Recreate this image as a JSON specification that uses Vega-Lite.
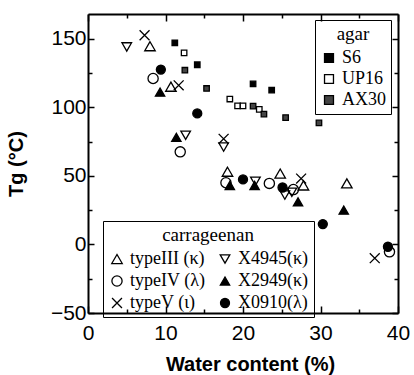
{
  "$schema": "https://vega.github.io/schema/vega-lite/v6.json",
  "width": 310,
  "height": 299,
  "autosize": {"type": "none"},
  "padding": {"left": 88, "top": 14, "right": 16, "bottom": 62},
  "background": "white",
  "config": {
    "view": {"stroke": null},
    "axis": {
      "domainColor": "black",
      "domainWidth": 2,
      "tickColor": "black",
      "tickWidth": 1.5,
      "grid": false,
      "labelFont": "Liberation Sans",
      "labelFontSize": 21,
      "labelColor": "black",
      "titleFont": "Liberation Sans",
      "titleFontSize": 20,
      "titleFontWeight": "bold",
      "titleColor": "black",
      "labelOverlap": false,
      "labelFlush": false
    }
  },
  "datasets": {
    "carr": [
      {"series": "typeIII (κ)", "water": 8.0, "tg": 144.5},
      {"series": "typeIII (κ)", "water": 10.7, "tg": 115},
      {"series": "typeIII (κ)", "water": 18.0, "tg": 53},
      {"series": "typeIII (κ)", "water": 24.8, "tg": 51.7},
      {"series": "typeIII (κ)", "water": 27.8, "tg": 43},
      {"series": "typeIII (κ)", "water": 33.4, "tg": 44.5},
      {"series": "typeIV (λ)", "water": 8.4, "tg": 121},
      {"series": "typeIV (λ)", "water": 11.9, "tg": 67.5},
      {"series": "typeIV (λ)", "water": 17.8, "tg": 45},
      {"series": "typeIV (λ)", "water": 23.4, "tg": 44.5},
      {"series": "typeIV (λ)", "water": 26.5, "tg": 40},
      {"series": "typeIV (λ)", "water": 38.9, "tg": -5.4},
      {"series": "typeV (ι)", "water": 7.3, "tg": 152.5},
      {"series": "typeV (ι)", "water": 11.7, "tg": 116},
      {"series": "typeV (ι)", "water": 17.5, "tg": 77},
      {"series": "typeV (ι)", "water": 27.5, "tg": 48},
      {"series": "typeV (ι)", "water": 37.0, "tg": -10},
      {"series": "X4945(κ)", "water": 5.0, "tg": 144},
      {"series": "X4945(κ)", "water": 12.6, "tg": 79.6},
      {"series": "X4945(κ)", "water": 17.5, "tg": 71},
      {"series": "X4945(κ)", "water": 21.6, "tg": 46},
      {"series": "X4945(κ)", "water": 25.4, "tg": 36},
      {"series": "X4945(κ)", "water": 26.3, "tg": 38},
      {"series": "X2949(κ)", "water": 9.3, "tg": 111},
      {"series": "X2949(κ)", "water": 11.4, "tg": 78},
      {"series": "X2949(κ)", "water": 18.3, "tg": 43},
      {"series": "X2949(κ)", "water": 21.5, "tg": 43},
      {"series": "X2949(κ)", "water": 27.1, "tg": 31},
      {"series": "X2949(κ)", "water": 33.0, "tg": 25},
      {"series": "X0910(λ)", "water": 9.4, "tg": 127.5},
      {"series": "X0910(λ)", "water": 14.1, "tg": 95.5},
      {"series": "X0910(λ)", "water": 20.0, "tg": 47.4},
      {"series": "X0910(λ)", "water": 25.1, "tg": 41.5},
      {"series": "X0910(λ)", "water": 30.3, "tg": 14.8},
      {"series": "X0910(λ)", "water": 38.7, "tg": -1.7}
    ],
    "agar": [
      {"series": "S6", "water": 11.2, "tg": 147},
      {"series": "S6", "water": 14.1, "tg": 131},
      {"series": "S6", "water": 21.3, "tg": 117},
      {"series": "S6", "water": 23.7, "tg": 112.5},
      {"series": "UP16", "water": 12.4, "tg": 139.6},
      {"series": "UP16", "water": 18.3, "tg": 106},
      {"series": "UP16", "water": 19.3, "tg": 101},
      {"series": "UP16", "water": 20.0, "tg": 101},
      {"series": "UP16", "water": 22.1, "tg": 98.4},
      {"series": "AX30", "water": 12.5, "tg": 127},
      {"series": "AX30", "water": 15.3, "tg": 113.7},
      {"series": "AX30", "water": 21.3, "tg": 100.8},
      {"series": "AX30", "water": 22.7, "tg": 95},
      {"series": "AX30", "water": 25.5, "tg": 92.5},
      {"series": "AX30", "water": 29.8, "tg": 88.6}
    ]
  },
  "layer": [
    {
      "data": {"name": "carr"},
      "mark": {"type": "point", "filled": true, "stroke": "black", "strokeWidth": 1.3, "opacity": 1},
      "encoding": {
        "x": {
          "field": "water", "type": "quantitative",
          "scale": {"domain": [0, 40], "nice": false, "zero": false},
          "axis": {
            "orient": "bottom",
            "values": [0, 5, 10, 15, 20, 25, 30, 35, 40],
            "labelExpr": "datum.value % 10 === 0 ? datum.label : ''",
            "tickSize": {"condition": {"test": "datum.value % 10 === 0", "value": -7}, "value": -4},
            "labelPadding": 16,
            "title": "Water content (%)",
            "titleX": 162,
            "titleY": 57,
            "titleBaseline": "alphabetic"
          }
        },
        "y": {
          "field": "tg", "type": "quantitative",
          "scale": {"domain": [-50, 168], "nice": false, "zero": false},
          "axis": {
            "orient": "left",
            "values": [-50, -25, 0, 25, 50, 75, 100, 125, 150],
            "labelExpr": "datum.value % 50 === 0 ? datum.label : ''",
            "tickSize": {"condition": {"test": "datum.value % 50 === 0", "value": -6}, "value": -4},
            "labelPadding": 8,
            "title": "Tg (°C)",
            "titleX": -62,
            "titleY": 149.5,
            "titleBaseline": "bottom"
          }
        },
        "shape": {
          "field": "series", "type": "nominal",
          "scale": {
            "domain": ["typeIII (κ)", "typeIV (λ)", "typeV (ι)", "X4945(κ)", "X2949(κ)", "X0910(λ)"],
            "range": ["triangle-up", "circle", "M-1,-1L1,1M-1,1L1,-1", "triangle-down", "triangle-up", "circle"]
          },
          "legend": {
            "title": "carrageenan",
            "orient": "none",
            "legendX": 15,
            "legendY": 207,
            "direction": "vertical",
            "columns": 2,
            "strokeColor": "black",
            "padding": 5,
            "titleFont": "Liberation Serif",
            "titleFontSize": 19,
            "titleFontWeight": "normal",
            "titleAnchor": "middle",
            "titleColor": "black",
            "labelFont": "Liberation Serif",
            "labelFontSize": 18,
            "labelColor": "black",
            "labelLimit": 200,
            "symbolStrokeColor": "black",
            "symbolStrokeWidth": 1.3,
            "rowPadding": 4,
            "columnPadding": 10
          }
        },
        "fill": {
          "field": "series", "type": "nominal",
          "scale": {
            "domain": ["typeIII (κ)", "typeIV (λ)", "typeV (ι)", "X4945(κ)", "X2949(κ)", "X0910(λ)"],
            "range": ["transparent", "transparent", "transparent", "transparent", "black", "black"]
          }
        },
        "size": {
          "field": "series", "type": "nominal",
          "scale": {
            "domain": ["typeIII (κ)", "typeIV (λ)", "typeV (ι)", "X4945(κ)", "X2949(κ)", "X0910(λ)"],
            "range": [110, 81, 70, 60, 70, 140]
          }
        }
      }
    },
    {
      "data": {"name": "agar"},
      "mark": {"type": "point", "filled": true, "shape": "square", "stroke": "black", "strokeWidth": 1.3, "opacity": 1},
      "encoding": {
        "x": {
          "field": "water", "type": "quantitative",
          "axis": {
            "orient": "top",
            "values": [0, 5, 10, 15, 20, 25, 30, 35, 40],
            "labels": false,
            "tickSize": {"condition": {"test": "datum.value % 10 === 0", "value": -7}, "value": -4},
            "title": null
          }
        },
        "y": {
          "field": "tg", "type": "quantitative",
          "axis": {
            "orient": "right",
            "values": [-50, -25, 0, 25, 50, 75, 100, 125, 150],
            "labels": false,
            "tickSize": {"condition": {"test": "datum.value % 50 === 0", "value": -6}, "value": -4},
            "title": null
          }
        },
        "fill": {
          "field": "series", "type": "nominal",
          "scale": {"domain": ["S6", "UP16", "AX30"], "range": ["black", "white", "#444444"]},
          "legend": {
            "title": "agar",
            "orient": "none",
            "legendX": 227,
            "legendY": 6,
            "direction": "vertical",
            "strokeColor": "black",
            "padding": 5,
            "titleFont": "Liberation Serif",
            "titleFontSize": 19,
            "titleFontWeight": "normal",
            "titleAnchor": "middle",
            "titleColor": "black",
            "labelFont": "Liberation Serif",
            "labelFontSize": 18,
            "labelColor": "black",
            "symbolType": "square",
            "symbolSize": 80,
            "symbolStrokeColor": "black",
            "symbolStrokeWidth": 1.3,
            "rowPadding": 3
          }
        }
      }
    }
  ],
  "resolve": {
    "scale": {"fill": "independent", "shape": "independent", "size": "independent"},
    "axis": {"x": "independent", "y": "independent"},
    "legend": {"fill": "independent", "shape": "independent", "size": "independent"}
  }
}
